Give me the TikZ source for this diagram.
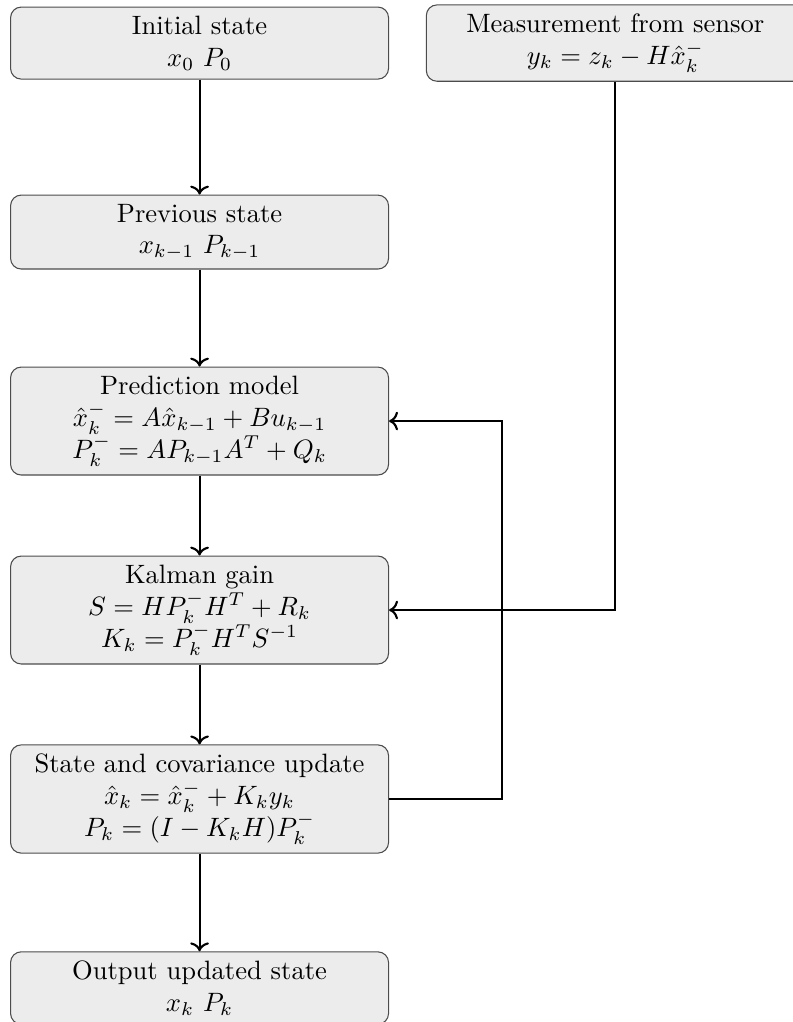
\documentclass[tikz,border=0pt]{standalone}
\usepackage{xcolor}
\usepackage{tikz}
\usetikzlibrary{arrows.meta, positioning}
\tikzset{
  box/.style={rectangle, draw=black!70, fill=gray!15, rounded corners, minimum width=5cm, align=center},
  arrow/.style={->, thick},
}

\begin{document}
\begin{tikzpicture}
    \useasboundingbox (-2.64,0.57) rectangle (7.84,-12.95);
    \node[box] (init) at (0,0) {Initial state\\ $x_0$ $P_0$};
    \node[box] (prev) at (0,-2.5) {Previous state\\ $x_{k-1}$ $P_{k-1}$};
    \node[box] (pred) at (0,-5) {Prediction model\\ $\hat{x}_k^- = A\hat{x}_{k-1} + Bu_{k-1}$\\ $P_k^- = AP_{k-1}A^T + Q_k$};
    \node[box] (gain) at (0,-7.5) {Kalman gain\\ $S = HP_k^-H^T + R_k$\\ $K_k = P_k^-H^TS^{-1}$};
    \node[box] (update) at (0,-10) {State and covariance update\\ $\hat{x}_k = \hat{x}_k^- + K_ky_k$\\ $P_k = (I - K_kH)P_k^-$};
    \node[box] (output) at (0,-12.5) {Output updated state\\ $x_k$ $P_k$};
    \node[box] (meas) at (5.5,0) {Measurement from sensor\\ $y_k = z_k - H\hat{x}_k^-$};

    \draw[arrow] (init) -- (prev);
    \draw[arrow] (prev) -- (pred);
    \draw[arrow] (pred) -- (gain);
    \draw[arrow] (gain) -- (update);
    \draw[arrow] (update) -- (output);
    % feedback and measurement
    \draw[arrow] (update.east) -- (4,-10) |- (pred.east);
    \draw[arrow] (meas.south) |- (gain.east);
  \end{tikzpicture}
\end{document}
